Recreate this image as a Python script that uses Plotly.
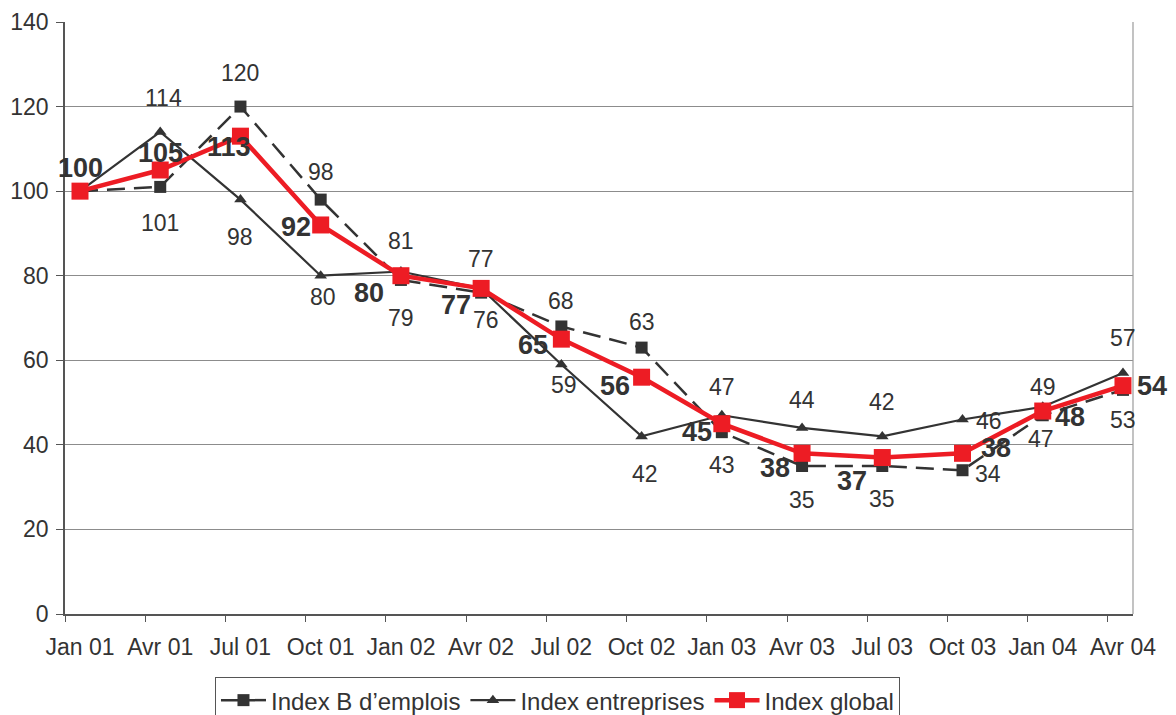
import plotly.graph_objects as go

categories = ["Jan 01", "Avr 01", "Jul 01", "Oct 01", "Jan 02", "Avr 02", "Jul 02",
              "Oct 02", "Jan 03", "Avr 03", "Jul 03", "Oct 03", "Jan 04", "Avr 04"]
index_b = [100, 101, 120, 98, 79, 76, 68, 63, 43, 35, 35, 34, 47, 53]
index_entreprises = [100, 114, 98, 80, 81, 77, 59, 42, 47, 44, 42, 46, 49, 57]
index_global = [100, 105, 113, 92, 80, 77, 65, 56, 45, 38, 37, 38, 48, 54]
y_ticks = [0, 20, 40, 60, 80, 100, 120, 140]

# label offsets in pixels (dx, dy down-positive); None = no label
off_b = [None, (0, 36), (0, -34), (0, -28), (0, 38), (5, 27), (0, -25), (0, -26),
         (0, 33), (0, 34), (0, 33), (25, 4), (-2, 24), (0, 30)]
off_e = [None, (3, -34), (0, 37), (2, 21), (0, -30), (0, -29), (3, 20), (3, 38),
         (0, -28), (0, -28), (0, -34), (26, 2), (0, -20), (0, -35)]
off_g = [(0, -23), (0, -17), (-11, 11), (-25, 2), (-32, 17), (-25, 17), (-28, 6),
         (-27, 9), (-25, 8), (-27, 15), (-30, 23), (33, -5), (27, 6), (29, 0)]

DARK = "#333333"
RED = "#ED1C24"
FONT = "Liberation Sans, Arial, sans-serif"

fig = go.Figure()
fig.add_trace(go.Scatter(
    x=categories, y=index_b, name="Index B d’emplois", mode="lines+markers",
    line=dict(color=DARK, width=2.5, dash="18px,9px"),
    marker=dict(symbol="square", size=12, color=DARK),
))
fig.add_trace(go.Scatter(
    x=categories, y=index_entreprises, name="Index entreprises", mode="lines+markers",
    line=dict(color=DARK, width=2.2),
    marker=dict(symbol="triangle-up", size=11, color=DARK),
))
fig.add_trace(go.Scatter(
    x=categories, y=index_global, name="Index global", mode="lines+markers",
    line=dict(color=RED, width=4.5),
    marker=dict(symbol="square", size=17, color=RED),
))
# dummy trace for the tick-mark axis
fig.add_trace(go.Scatter(x=[0], y=[None], xaxis="x2", showlegend=False, hoverinfo="skip"))

annotations = []
for vals, offs, bold in ((index_b, off_b, False), (index_entreprises, off_e, False),
                         (index_global, off_g, True)):
    for c, v, o in zip(categories, vals, offs):
        if o is None:
            continue
        annotations.append(dict(
            x=c, y=v, xref="x", yref="y", showarrow=False,
            text=f"<b>{v}</b>" if bold else str(v),
            xshift=o[0], yshift=-o[1],
            font=dict(family=FONT, size=27 if bold else 23, color=DARK),
        ))

x_range = [-0.187, 13.125]
fig.update_layout(
    width=1176, height=715,
    margin=dict(l=65, r=43, t=22, b=101, autoexpand=False),
    paper_bgcolor="white", plot_bgcolor="white",
    font=dict(family=FONT, size=23, color=DARK),
    showlegend=True,
    legend=dict(
        orientation="h", xref="container", x=0.1828, xanchor="left",
        yref="container", y=0.0531, yanchor="top",
        bordercolor="#555555", borderwidth=1, bgcolor="white",
        font=dict(family=FONT, size=24, color=DARK),
        itemwidth=45, tracegroupgap=0,
    ),
    xaxis=dict(
        type="category", range=x_range, tickmode="array",
        tickvals=categories, ticktext=categories, ticks="",
        showgrid=False, showline=True, linecolor="#555555", linewidth=1.5,
        mirror=False, zeroline=False, ticklabelstandoff=12, automargin=False,
        tickfont=dict(family=FONT, size=23, color=DARK),
    ),
    xaxis2=dict(
        overlaying="x", type="linear", range=x_range, side="bottom",
        tickmode="array", tickvals=[i - 0.187 for i in range(len(categories))],
        ticks="outside", ticklen=7, tickcolor="#555555", tickwidth=1.2,
        showticklabels=False, showgrid=False, zeroline=False, showline=False,
        anchor="y", automargin=False,
    ),
    yaxis=dict(
        range=[0, 140], tickmode="array", tickvals=y_ticks,
        ticks="outside", ticklen=7, tickcolor="#555555",
        showgrid=True, gridcolor="#8c8c8c", gridwidth=1,
        showline=True, linecolor="#555555", linewidth=1.5, zeroline=False,
        ticklabelstandoff=3, automargin=False,
        tickfont=dict(family=FONT, size=23, color=DARK),
    ),
    annotations=annotations,
    shapes=[dict(type="line", xref="paper", yref="paper", x0=1, x1=1, y0=0, y1=1,
                 line=dict(color="#9a9a9a", width=1.2))],
)

fig.write_html("out.html", config={"displayModeBar": False},
               post_script="document.body.style.margin='0';document.body.style.overflow='hidden';")
